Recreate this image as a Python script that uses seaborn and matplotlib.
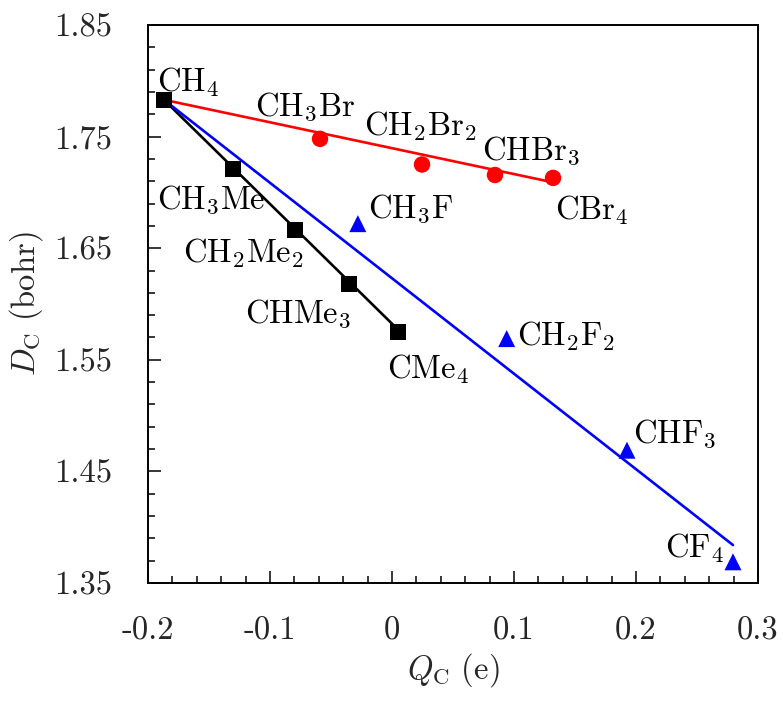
import numpy as np
import pandas as pd
import matplotlib
matplotlib.use("Agg")
import matplotlib.pyplot as plt
import seaborn as sns

# Carbon charge Q_C (e) and descriptor D_C (bohr) for the substituted methanes
me_names = ["CH_4", "CH_3Me", "CH_2Me_2", "CHMe_3", "CMe_4"]
me_q = [-0.187, -0.130, -0.0795, -0.035, 0.005]
me_d = [1.783, 1.721, 1.666, 1.618, 1.575]

br_names = ["CH_3Br", "CH_2Br_2", "CHBr_3", "CBr_4"]
br_q = [-0.059, 0.0246, 0.0844, 0.132]
br_d = [1.748, 1.725, 1.7156, 1.713]

f_names = ["CH_3F", "CH_2F_2", "CHF_3", "CF_4"]
f_q = [-0.028, 0.094, 0.1926, 0.2795]
f_d = [1.672, 1.569, 1.469, 1.369]

# Trend lines (end points in Q_C, D_C)
me_line_q = [-0.187, 0.005]
me_line_d = [1.783, 1.577]
br_line_q = [-0.187, 0.132]
br_line_d = [1.783, 1.709]
f_line_q = [-0.187, 0.2795]
f_line_d = [1.783, 1.384]

# Label anchors (left / baseline) for each compound
lab_names = ["CH_4", "CH_3Br", "CH_2Br_2", "CHBr_3", "CBr_4",
             "CH_3Me", "CH_2Me_2", "CHMe_3", "CMe_4",
             "CH_3F", "CH_2F_2", "CHF_3", "CF_4"]
lab_q = [-0.1926, -0.1123, -0.023, 0.0738, 0.1336,
         -0.1926, -0.1713, -0.1205, -0.0041,
         -0.0197, 0.1025, 0.1975, 0.2238]
lab_d = [1.7909, 1.7694, 1.7514, 1.730, 1.676,
         1.686, 1.6376, 1.5839, 1.5337,
         1.678, 1.5633, 1.4763, 1.3733]

x_ticks = [-0.2, -0.1, 0.0, 0.1, 0.2, 0.3]
x_tick_labels = ["-0.2", "-0.1", "0", "0.1", "0.2", "0.3"]
y_ticks = [1.35, 1.45, 1.55, 1.65, 1.75, 1.85]
y_tick_labels = ["1.35", "1.45", "1.55", "1.65", "1.75", "1.85"]

FS = 23.5

sns.set_theme(style="ticks")
plt.rcParams.update({
    "font.family": "serif",
    "font.serif": ["cmr10", "DejaVu Serif"],
    "mathtext.fontset": "cm",
    "axes.unicode_minus": False,
    "axes.formatter.use_mathtext": True,
})

fig = plt.figure(figsize=(7.83, 7.02), dpi=100)
ax = fig.add_axes([148 / 783, 1 - 583 / 702, (758 - 148) / 783, (583 - 25) / 702])

lines = pd.concat([
    pd.DataFrame({"q": me_line_q, "d": me_line_d, "set": "Me"}),
    pd.DataFrame({"q": br_line_q, "d": br_line_d, "set": "Br"}),
    pd.DataFrame({"q": f_line_q, "d": f_line_d, "set": "F"}),
])
palette = {"Me": "black", "Br": "#ff0000", "F": "#0000ff"}
sns.lineplot(data=lines, x="q", y="d", hue="set", palette=palette,
             linewidth=1.9, legend=False, ax=ax, sort=False, estimator=None)

pts = pd.concat([
    pd.DataFrame({"q": me_q, "d": me_d, "set": "Me"}),
    pd.DataFrame({"q": br_q, "d": br_d, "set": "Br"}),
    pd.DataFrame({"q": f_q, "d": f_d, "set": "F"}),
])
markers = {"Me": "s", "Br": "o", "F": "^"}
sizes = {"Me": 130, "Br": 140, "F": 150}
for key, grp in pts.groupby("set"):
    sns.scatterplot(data=grp, x="q", y="d", color=palette[key],
                    marker=markers[key], s=sizes[key], edgecolor="none",
                    legend=False, ax=ax, zorder=3)

for name, q, d in zip(lab_names, lab_q, lab_d):
    ax.text(q, d, rf"$\mathrm{{{name}}}$", fontsize=FS, ha="left",
            va="baseline", color="black")

ax.set_xlim(-0.2, 0.3)
ax.set_ylim(1.35, 1.85)
ax.set_xticks(x_ticks)
ax.set_xticklabels(x_tick_labels)
ax.set_yticks(y_ticks)
ax.set_yticklabels(y_tick_labels)
ax.set_xticks(np.arange(-0.18, 0.3, 0.02), minor=True)
ax.set_yticks(np.arange(1.37, 1.85, 0.02), minor=True)
ax.tick_params(which="both", direction="in", top=False, right=False,
               labelsize=FS, width=1.1, color="black")
ax.tick_params(axis="x", which="major", length=9, pad=24)
ax.tick_params(axis="y", which="major", length=9, pad=26)
ax.tick_params(which="minor", length=5)
for sp in ax.spines.values():
    sp.set_linewidth(1.4)
    sp.set_color("black")

ax.set_xlabel(r"$Q_{\mathrm{C}}\ \mathrm{(e)}$", fontsize=FS, labelpad=4)
ax.set_ylabel(r"$D_{\mathrm{C}}\ \mathrm{(bohr)}$", fontsize=FS, labelpad=6)

fig.savefig("out.png", dpi=100)
